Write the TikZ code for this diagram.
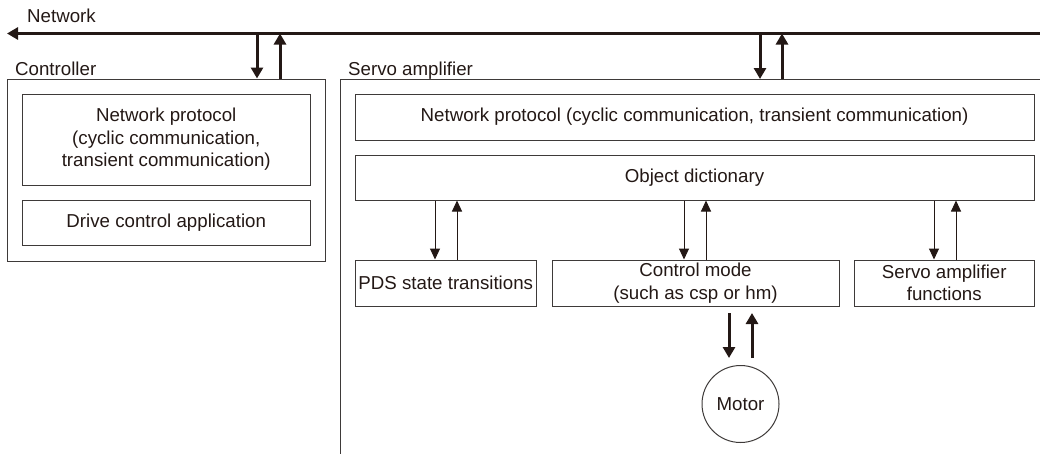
\documentclass[tikz,border=0pt]{standalone}
\usepackage{fontspec}
\setmainfont{Liberation Sans}
\usetikzlibrary{arrows.meta}
\definecolor{ink}{HTML}{231815}
\definecolor{boxc}{HTML}{3E3A39}
\tikzset{
  box/.style={draw=boxc, line width=1pt, inner sep=0pt, align=center, text=ink,
    font=\fontsize{18.7}{22.5}\selectfont},
  lbl/.style={inner sep=0pt, text=ink, font=\fontsize{18.7}{22.5}\selectfont},
  bigarr/.style={draw=ink, line width=3pt, -{Triangle[width=12pt,length=11pt]}},
  thinarr/.style={draw=ink, line width=1pt, -{Triangle[width=10pt,length=11pt]}},
}
\begin{document}
\begin{tikzpicture}[x=1pt,y=-1pt]
\useasboundingbox (0,0) rectangle (1040,453);
% network line
\coordinate (netL) at (7,33.5);
\coordinate (netR) at (1040,33.5);
\draw[draw=ink, line width=3pt, {Triangle[width=12pt,length=11pt]}-] (netL) -- (netR);
\node[lbl, anchor=base west] (netlbl) at (27,22.5) {Network};

% controller
\node[box, minimum width=317.5pt, minimum height=182pt] (ctrl) at (166.25,170) {};
\node[lbl, anchor=base west] (ctrllbl) at (15,75) {Controller};
\node[box, minimum width=287.5pt, minimum height=91pt] (cnp) at (166.25,139.5)
  {Network protocol\\(cyclic communication,\\transient communication)};
\node[box, minimum width=287.5pt, minimum height=45pt] (cdca) at (166.25,222.5)
  {Drive control application};

% servo amplifier outer frame
\coordinate (sTR) at (1041,79);
\coordinate (sTL) at (340,79);
\coordinate (sBL) at (340,454);
\draw[draw=boxc, line width=1pt] (sTR) -- (sTL) -- (sBL);
\node[lbl, anchor=base west] (servolbl) at (348,75) {Servo amplifier};

\node[box, minimum width=679pt, minimum height=46pt] (snp) at (694.5,117)
  {Network protocol (cyclic communication, transient communication)};
\node[box, minimum width=679pt, minimum height=45pt] (sod) at (694.5,177.5)
  {Object dictionary};
\node[box, minimum width=181.5pt, minimum height=46pt] (pds) at (445.75,283)
  {PDS state transitions};
\node[box, minimum width=287pt, minimum height=46pt] (cm) at (695.5,283)
  {Control mode\\(such as csp or hm)};
\node[box, minimum width=179.5pt, minimum height=46pt] (saf) at (944.25,283)
  {Servo amplifier\\functions};
\node[box, circle, minimum size=77pt] (motor) at (740.5,404) {Motor};

% network <-> controller
\coordinate (c1) at (257,0);
\coordinate (c2) at (280,0);
\draw[bigarr] (c1 |- netL) -- (c1 |- ctrl.north);
\draw[bigarr] (c2 |- ctrl.north) -- (c2 |- netL);
% network <-> servo
\coordinate (s1) at (760,0);
\coordinate (s2) at (782,0);
\draw[bigarr] (s1 |- netL) -- (s1 |- sTL);
\draw[bigarr] (s2 |- sTL) -- (s2 |- netL);

% object dictionary <-> blocks
\coordinate (p1) at (435,0);
\coordinate (p2) at (457,0);
\draw[thinarr] (p1 |- sod.south) -- (p1 |- pds.north);
\draw[thinarr] (p2 |- pds.north) -- (p2 |- sod.south);
\coordinate (m1) at (684,0);
\coordinate (m2) at (706,0);
\draw[thinarr] (m1 |- sod.south) -- (m1 |- cm.north);
\draw[thinarr] (m2 |- cm.north) -- (m2 |- sod.south);
\coordinate (f1) at (934,0);
\coordinate (f2) at (956,0);
\draw[thinarr] (f1 |- sod.south) -- (f1 |- saf.north);
\draw[thinarr] (f2 |- saf.north) -- (f2 |- sod.south);

% control mode <-> motor
\coordinate (mt1) at (729,313);
\coordinate (mb1) at (729,358);
\coordinate (mt2) at (752,313);
\coordinate (mb2) at (752,358);
\draw[bigarr] (mt1) -- (mb1);
\draw[bigarr] (mb2) -- (mt2);
\end{tikzpicture}
\end{document}
